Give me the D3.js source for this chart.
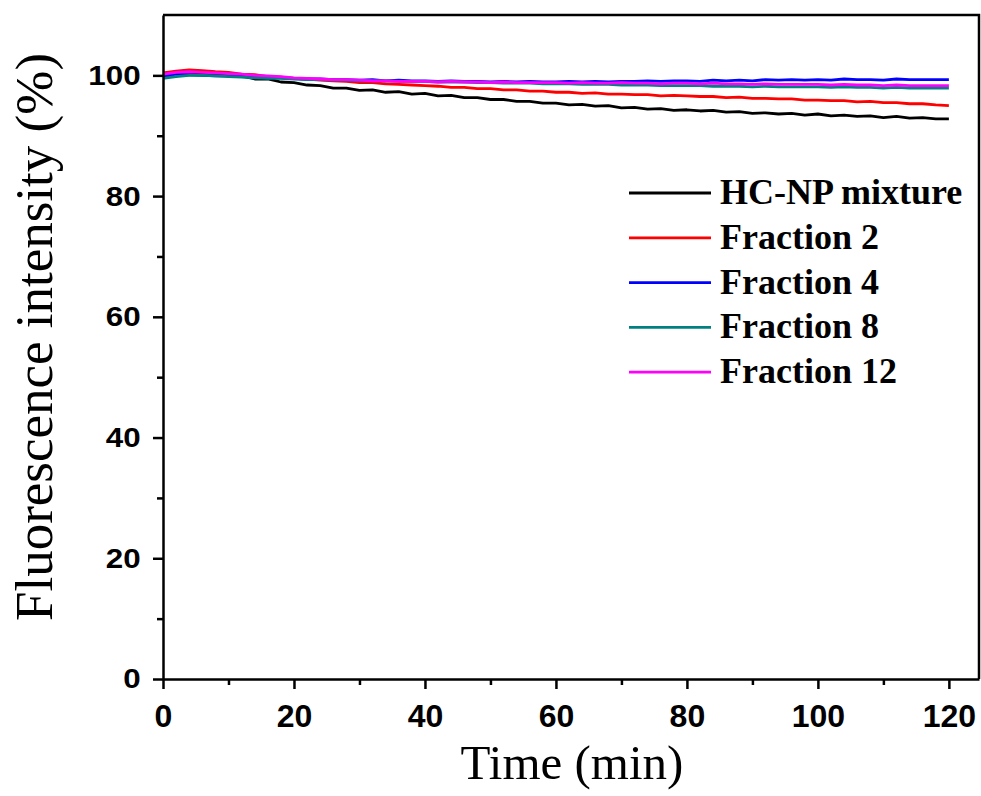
<!DOCTYPE html>
<html>
<head>
<meta charset="utf-8">
<script src="https://cdn.jsdelivr.net/npm/d3@7"></script>
<style>
  body { margin: 0; background: #fff; }
  svg { display: block; }
  .tick text { font-family: "Liberation Sans", Arial, sans-serif; font-weight: bold; }
</style>
</head>
<body>
<div id="chart"></div>
<script>
// sampling times (min), one reading every 2 min
const times = d3.range(0, 121, 2);

const seriesNames = ['HC-NP mixture', 'Fraction 2', 'Fraction 4', 'Fraction 8', 'Fraction 12'];
const seriesColors = ['#000000', '#ff0000', '#0000ff', '#008080', '#ff00ff'];

const hcnpMixture = [
    100.1, 100.6, 100.4, 100.5, 100.1, 100.0, 99.9, 99.4, 99.4, 98.9,
    98.8, 98.4, 98.3, 97.9, 97.9, 97.5, 97.6, 97.2, 97.3, 96.9,
    97.0, 96.6, 96.7, 96.3, 96.3, 96.0, 96.0, 95.7, 95.7, 95.4,
    95.4, 95.1, 95.2, 94.9, 95.0, 94.6, 94.7, 94.4, 94.5, 94.2,
    94.3, 94.1, 94.2, 93.9, 94.0, 93.7, 93.8, 93.6, 93.7, 93.4,
    93.6, 93.3, 93.4, 93.2, 93.3, 93.0, 93.2, 92.9, 93.0, 92.8,
    92.8
];
const fraction2 = [
    100.4, 100.7, 100.9, 100.8, 100.6, 100.5, 100.2, 100.1, 99.8, 99.7,
    99.5, 99.4, 99.2, 99.1, 99.0, 98.8, 98.8, 98.6, 98.5, 98.4,
    98.3, 98.2, 98.0, 98.0, 97.8, 97.8, 97.6, 97.6, 97.4, 97.4,
    97.2, 97.2, 97.0, 97.1, 96.9, 96.9, 96.8, 96.8, 96.6, 96.7,
    96.6, 96.5, 96.5, 96.3, 96.4, 96.2, 96.2, 96.1, 96.1, 95.9,
    95.9, 95.8, 95.8, 95.6, 95.7, 95.5, 95.5, 95.3, 95.3, 95.1,
    95.0
];
const fraction4 = [
    99.8, 100.2, 100.1, 100.0, 99.9, 99.9, 99.8, 99.7, 99.6, 99.6,
    99.5, 99.4, 99.4, 99.3, 99.3, 99.2, 99.3, 99.1, 99.2, 99.1,
    99.1, 99.0, 99.1, 99.0, 99.0, 98.9, 99.0, 98.9, 99.0, 98.9,
    98.9, 99.0, 98.9, 99.0, 98.9, 99.0, 99.0, 99.1, 99.0, 99.1,
    99.1, 99.0, 99.2, 99.1, 99.2, 99.1, 99.3, 99.2, 99.3, 99.2,
    99.3, 99.2, 99.4, 99.3, 99.3, 99.2, 99.4, 99.3, 99.3, 99.3,
    99.3
];
const fraction8 = [
    99.5, 99.8, 100.0, 100.0, 99.9, 99.8, 99.7, 99.6, 99.5, 99.5,
    99.4, 99.3, 99.3, 99.2, 99.2, 99.1, 99.1, 99.1, 99.0, 99.0,
    99.0, 98.9, 98.9, 98.9, 98.8, 98.8, 98.7, 98.7, 98.7, 98.6,
    98.6, 98.6, 98.5, 98.5, 98.5, 98.4, 98.4, 98.4, 98.3, 98.3,
    98.3, 98.3, 98.2, 98.2, 98.2, 98.1, 98.2, 98.1, 98.1, 98.1,
    98.1, 98.0, 98.1, 98.0, 98.0, 97.9, 98.0, 97.9, 97.9, 97.9,
    97.9
];
const fraction12 = [
    100.2, 100.5, 100.6, 100.5, 100.4, 100.3, 100.2, 100.0, 99.9, 99.8,
    99.6, 99.5, 99.4, 99.3, 99.3, 99.2, 99.1, 99.1, 99.0, 99.0,
    99.0, 98.9, 99.0, 98.9, 98.9, 98.8, 98.9, 98.8, 98.8, 98.8,
    98.8, 98.7, 98.8, 98.7, 98.7, 98.8, 98.7, 98.7, 98.6, 98.7,
    98.7, 98.6, 98.7, 98.6, 98.6, 98.5, 98.6, 98.5, 98.5, 98.5,
    98.5, 98.4, 98.5, 98.4, 98.4, 98.3, 98.4, 98.3, 98.3, 98.3,
    98.3
];
const seriesValues = [hcnpMixture, fraction2, fraction4, fraction8, fraction12];

const xTicks = [0, 20, 40, 60, 80, 100, 120];
const xMinorTicks = [10, 30, 50, 70, 90, 110];
const yTicks = [0, 20, 40, 60, 80, 100];
const yMinorTicks = [10, 30, 50, 70, 90];

const width = 981, height = 796;
const margin = { top: 15, right: 2, bottom: 117, left: 163 };
const innerW = width - margin.left - margin.right;
const innerH = height - margin.top - margin.bottom;

const x = d3.scaleLinear().domain([0, 124.6]).range([0, innerW]);
const y = d3.scaleLinear().domain([0, 110]).range([innerH, 0]);

const svg = d3.select('#chart')
    .append('svg')
    .attr('width', width)
    .attr('height', height);

const g = svg.append('g')
    .attr('transform', `translate(${margin.left},${margin.top})`);

// lines, clipped to the frame
svg.append('defs').append('clipPath').attr('id', 'plot-clip')
    .append('rect').attr('width', innerW).attr('height', innerH);

const line = d3.line()
    .x((d, i) => x(times[i]))
    .y((d) => y(d));

const linesContainer = g.append('g').attr('clip-path', 'url(#plot-clip)');
seriesValues.forEach((vals, k) => {
    linesContainer.append('path')
        .datum(vals)
        .attr('fill', 'none')
        .attr('stroke', seriesColors[k])
        .attr('stroke-width', 2.8)
        .attr('stroke-linejoin', 'round')
        .attr('d', line);
});

// frame: top and right edges
g.append('path')
    .attr('d', `M0,0H${innerW}V${innerH}`)
    .attr('fill', 'none')
    .attr('stroke', '#000')
    .attr('stroke-width', 2.5);

// minor ticks first, majors on top
g.append('g')
    .attr('transform', `translate(0,${innerH})`)
    .call(d3.axisBottom(x).tickValues(xMinorTicks).tickSize(6).tickFormat(''))
    .call((a) => a.select('.domain').remove())
    .call((a) => a.selectAll('line').attr('stroke-width', 2.5));

g.append('g')
    .call(d3.axisLeft(y).tickValues(yMinorTicks).tickSize(6).tickFormat(''))
    .call((a) => a.select('.domain').remove())
    .call((a) => a.selectAll('line').attr('stroke-width', 2.5));

const xAxis = g.append('g')
    .attr('transform', `translate(0,${innerH})`)
    .call(d3.axisBottom(x).tickValues(xTicks).tickSize(10).tickSizeOuter(0).tickPadding(15));
xAxis.select('.domain').attr('stroke-width', 2.5);
xAxis.selectAll('line').attr('stroke-width', 2.5);
xAxis.selectAll('text').attr('font-size', 32).attr('fill', '#000');

const yAxis = g.append('g')
    .call(d3.axisLeft(y).tickValues(yTicks).tickSize(10).tickSizeOuter(0).tickPadding(10));
yAxis.select('.domain').attr('stroke-width', 2.5);
yAxis.selectAll('line').attr('stroke-width', 2.5);
// y labels are a little wider than plain Arial in the original
yAxis.selectAll('text')
    .attr('font-size', 28)
    .attr('fill', '#000')
    .attr('transform', 'scale(1.12,1)');

// axis titles
svg.append('text')
    .attr('x', 572)
    .attr('y', 779)
    .attr('text-anchor', 'middle')
    .attr('font-family', '"Liberation Serif", "Times New Roman", serif')
    .attr('font-size', 49)
    .text('Time (min)');

svg.append('text')
    .attr('transform', 'translate(52,337) rotate(-90)')
    .attr('text-anchor', 'middle')
    .attr('font-family', '"Liberation Serif", "Times New Roman", serif')
    .attr('font-size', 53)
    .text('Fluorescence intensity (%)');

// legend
const legend = svg.append('g').attr('transform', 'translate(629,193)');
seriesNames.forEach((name, k) => {
    const row = legend.append('g').attr('transform', `translate(0,${k * 44.8})`);
    row.append('line')
        .attr('x1', 0).attr('x2', 82)
        .attr('stroke', seriesColors[k])
        .attr('stroke-width', 2.8);
    row.append('text')
        .attr('x', 91)
        .attr('y', 11)
        .attr('font-family', '"Liberation Serif", "Times New Roman", serif')
        .attr('font-weight', 'bold')
        .attr('font-size', 36)
        .text(name);
});
</script>
</body>
</html>
